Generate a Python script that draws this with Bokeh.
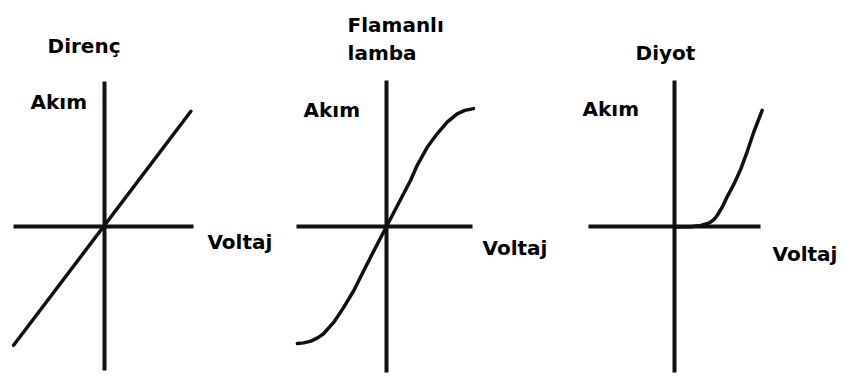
from bokeh.plotting import figure
from bokeh.layouts import row
from bokeh.models import Label
from bokeh.embed import file_html
from bokeh.resources import INLINE

# ---- data (voltage / current in arbitrary units) ----
panel_titles = [["Direnç"], ["Flamanlı", "lamba"], ["Diyot"]]
y_label = "Akım"
x_label = "Voltaj"

resistor_v = [-1.01, 0.96]
resistor_i = [-1.32, 1.28]

lamp_v = [-0.99, -0.92, -0.84, -0.76, -0.70, -0.585, -0.474, -0.363, -0.252, -0.13, 0.0,
          0.13, 0.267, 0.341, 0.452, 0.563, 0.674, 0.785, 0.87, 0.967]
lamp_i = [-1.30, -1.293, -1.274, -1.235, -1.192, -1.063, -0.896, -0.711, -0.489, -0.25, 0.0,
          0.25, 0.511, 0.68, 0.880, 1.030, 1.159, 1.252, 1.29, 1.31]

diode_v = [0.0, 0.18, 0.29, 0.36, 0.40, 0.44, 0.474, 0.53, 0.585, 0.66, 0.733, 0.807, 0.881, 0.974]
diode_i = [-0.006, -0.002, 0.011, 0.03, 0.048, 0.08, 0.122, 0.215, 0.33, 0.47, 0.63, 0.83, 1.05, 1.29]

SCALE = 90.0  # px per unit
W = [284, 276, 284]
H = 381
origin_x = [104, 102, 114]   # local px of origin in each figure
origin_y_from_bottom = 155

axis_h = [(-1.011, 0.989), (-1.0, 0.956), (-0.956, 0.956)]
axis_v = [(-1.60, 1.611), (-1.622, 1.622), (-1.622, 1.622)]

title_pos = [[(-0.633, 2.011)], [(-0.433, 2.244), (-0.433, 1.933)], [(-0.433, 1.933)]]
ylab_pos = [(-0.822, 1.378), (-0.922, 1.289), (-1.022, 1.311)]
xlab_pos = [(1.144, -0.167), (1.067, -0.244), (1.089, -0.30)]

curves = [(resistor_v, resistor_i), (lamp_v, lamp_i), (diode_v, diode_i)]

INK = "#111111"
FONT = "DejaVu Sans"

figs = []
for k in range(3):
    x0 = -origin_x[k] / SCALE
    x1 = (W[k] - origin_x[k]) / SCALE
    y0 = -origin_y_from_bottom / SCALE
    y1 = (H - origin_y_from_bottom) / SCALE
    p = figure(width=W[k], height=H, x_range=(x0, x1), y_range=(y0, y1),
               x_axis_type=None, y_axis_type=None, toolbar_location=None,
               output_backend="svg", min_border=0, outline_line_color=None,
               background_fill_color="white", border_fill_color="white")
    p.grid.visible = False
    # axes through origin
    p.line(list(axis_h[k]), [0, 0], line_color=INK, line_width=4)
    p.line([0, 0], list(axis_v[k]), line_color=INK, line_width=4)
    # curve
    v, i = curves[k]
    p.line(v, i, line_color=INK, line_width=3.5, line_join="round", line_cap="round")
    # texts
    for t, (tx, ty) in zip(panel_titles[k], title_pos[k]):
        p.add_layout(Label(x=tx, y=ty, text=t, text_font=FONT, text_font_style="bold",
                           text_font_size="20px", text_color="black",
                           text_baseline="alphabetic", text_align="left"))
    p.add_layout(Label(x=ylab_pos[k][0], y=ylab_pos[k][1], text=y_label, text_font=FONT,
                       text_font_style="bold", text_font_size="20px", text_color="black",
                       text_baseline="alphabetic", text_align="left"))
    p.add_layout(Label(x=xlab_pos[k][0], y=xlab_pos[k][1], text=x_label, text_font=FONT,
                       text_font_style="bold", text_font_size="20px", text_color="black",
                       text_baseline="alphabetic", text_align="left"))
    figs.append(p)

layout = row(*figs, spacing=0)
open("out.html", "w").write(file_html(layout, INLINE))
